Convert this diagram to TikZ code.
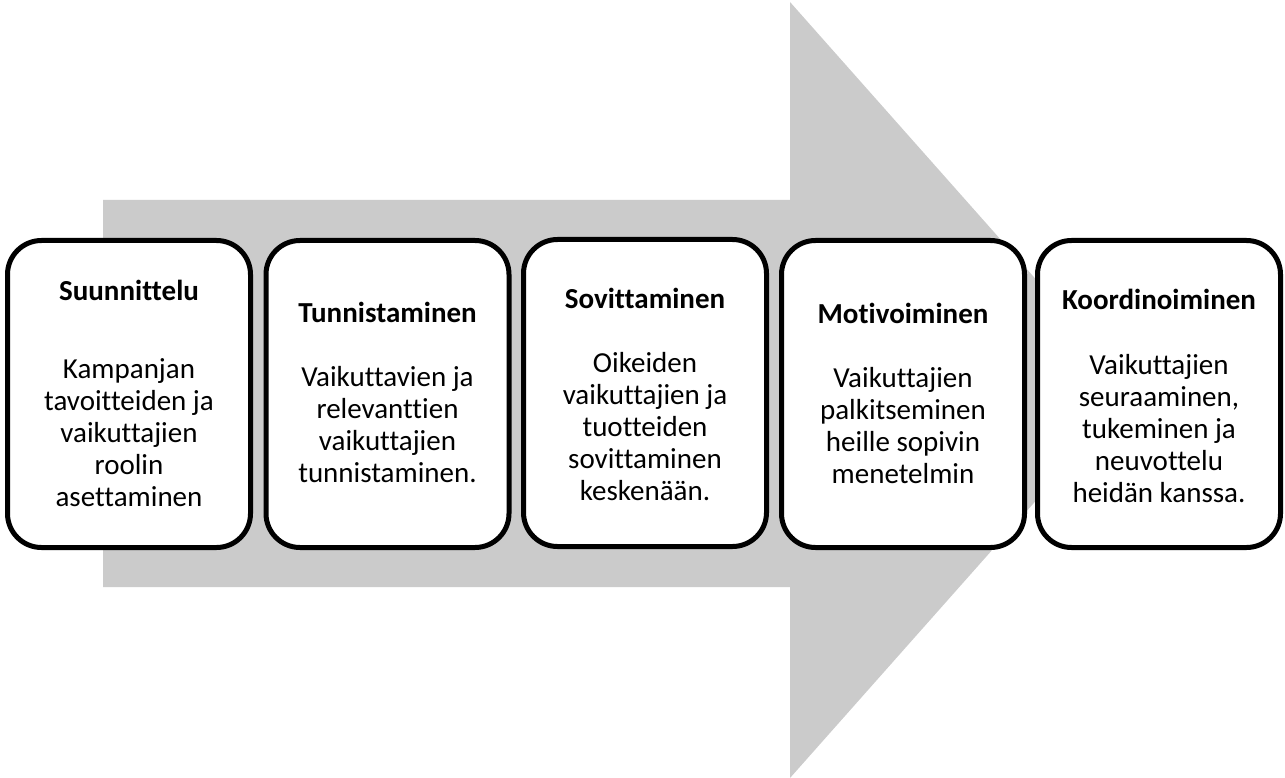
\documentclass[tikz,border=0pt]{standalone}
\usepackage{fontspec}
\setmainfont{Carlito}[Ligatures=NoCommon]
\definecolor{arrowgray}{RGB}{203,203,203}
\tikzset{
  stepbox/.style={draw=black, line width=5pt, fill=white, rounded corners=34pt,
    rectangle, minimum width=243pt, minimum height=307pt, inner sep=0pt},
  steptitle/.style={font=\fontsize{29}{32}\selectfont\bfseries, inner sep=0pt},
  stepbody/.style={font=\fontsize{29}{32}\selectfont, align=center, inner sep=0pt}
}
\begin{document}
\begin{tikzpicture}[x=1pt,y=-1pt]
\useasboundingbox (0,0) rectangle (1285,778);
\fill[arrowgray] (103,200) -- (790,200) -- (790,2) -- (1134,390) -- (790,778) -- (790,587) -- (103,587) -- cycle;

\node[stepbox] (b1) at (129,394) {};
\node[stepbox] (b2) at (387.5,394) {};
\node[stepbox] (b3) at (645,393) {};
\node[stepbox] (b4) at (903,394) {};
\node[stepbox] (b5) at (1159,394) {};

\node[steptitle] (t1) at (129,290) {Suunnittelu};
\node[stepbody] (d1) at (129,433) {Kampanjan\\tavoitteiden ja\\vaikuttajien\\roolin\\asettaminen};

\node[steptitle] (t2) at (387.5,312) {Tunnistaminen};
\node[stepbody] (d2) at (387.5,425) {Vaikuttavien ja\\relevanttien\\vaikuttajien\\tunnistaminen.};

\node[steptitle] (t3) at (645,298) {Sovittaminen};
\node[stepbody] (d3) at (645,426.5) {Oikeiden\\vaikuttajien ja\\tuotteiden\\sovittaminen\\keskenään.};

\node[steptitle] (t4) at (903,313) {Motivoiminen};
\node[stepbody] (d4) at (903,425.5) {Vaikuttajien\\palkitseminen\\heille sopivin\\menetelmin};

\node[steptitle] (t5) at (1159,299) {Koordinoiminen};
\node[stepbody] (d5) at (1159,428.5) {Vaikuttajien\\seuraaminen,\\tukeminen ja\\neuvottelu\\heidän kanssa.};
\end{tikzpicture}
\end{document}
